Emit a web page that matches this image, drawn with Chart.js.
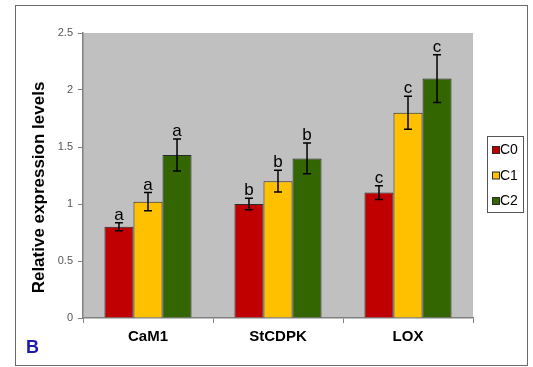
<!DOCTYPE html>
<html>
<head>
<meta charset="utf-8">
<script src="https://cdn.jsdelivr.net/npm/chart.js@4.4.1/dist/chart.umd.min.js"></script>
<style>
  html, body { margin: 0; padding: 0; background: #ffffff; }
  #wrap { width: 533px; height: 367px; }
</style>
</head>
<body>
<div id="wrap"><canvas id="chart" width="533" height="367"></canvas></div>
<script>
// Genes on the x axis
const genes = ['CaM1', 'StCDPK', 'LOX'];
// Treatment series
const seriesNames = ['C0', 'C1', 'C2'];
const seriesColors = ['#C00000', '#FFC000', '#336600'];

// Mean relative expression per gene
const c0Values = [0.80, 1.00, 1.10];
const c1Values = [1.02, 1.20, 1.80];
const c2Values = [1.43, 1.40, 2.10];

// Error (± half-width) per gene
const c0Errors = [0.035, 0.05, 0.06];
const c1Errors = [0.08, 0.095, 0.145];
const c2Errors = [0.14, 0.135, 0.21];

// Significance letters per gene
const c0Letters = ['a', 'b', 'c'];
const c1Letters = ['a', 'b', 'c'];
const c2Letters = ['a', 'b', 'c'];

// Y axis range, step and tick labels
const yMin = 0;
const yMax = 2.5;
const yStep = 0.5;
const yTickLabels = ['0', '0.5', '1', '1.5', '2', '2.5'];

const axisTitle = 'Relative expression levels';
const panelLabel = 'B';

const FONT = 'Arial, "Liberation Sans", Helvetica, sans-serif';

const valueSets = [c0Values, c1Values, c2Values];
const errorSets = [c0Errors, c1Errors, c2Errors];
const letterSets = [c0Letters, c1Letters, c2Letters];

const datasets = seriesNames.map((name, i) => ({
  label: name,
  data: valueSets[i],
  errors: errorSets[i],
  letters: letterSets[i],
  backgroundColor: seriesColors[i],
  borderColor: '#2a2a2a',
  borderWidth: 1,
  categoryPercentage: 0.67,
  barPercentage: 1.0
}));

// Grey plotting area behind the bars
const plotBackground = {
  id: 'plotBackground',
  beforeDraw(chart) {
    const { ctx, chartArea: a } = chart;
    ctx.save();
    ctx.fillStyle = '#C0C0C0';
    ctx.fillRect(a.left, a.top, a.right - a.left, a.bottom - a.top);
    ctx.restore();
  }
};

// Error bars with caps and significance letters above them
const errorBars = {
  id: 'errorBars',
  afterDatasetsDraw(chart) {
    const { ctx } = chart;
    const y = chart.scales.y;
    ctx.save();
    chart.data.datasets.forEach((ds, di) => {
      const meta = chart.getDatasetMeta(di);
      meta.data.forEach((bar, j) => {
        const v = ds.data[j];
        const e = ds.errors[j];
        const yTop = y.getPixelForValue(v + e);
        const yBot = y.getPixelForValue(v - e);
        const x = bar.x;
        ctx.strokeStyle = '#000';
        ctx.lineWidth = 1.5;
        ctx.beginPath();
        ctx.moveTo(x, yTop); ctx.lineTo(x, yBot);
        ctx.moveTo(x - 4, yTop); ctx.lineTo(x + 4, yTop);
        ctx.moveTo(x - 4, yBot); ctx.lineTo(x + 4, yBot);
        ctx.stroke();
        ctx.fillStyle = '#000';
        ctx.font = '17px ' + FONT;
        ctx.textAlign = 'center';
        ctx.textBaseline = 'alphabetic';
        ctx.fillText(ds.letters[j], x, yTop - 3);
      });
    });
    ctx.restore();
  }
};

// Outer frame, axis title, panel letter and legend box
const decorations = {
  id: 'decorations',
  afterDraw(chart) {
    const { ctx, chartArea: a } = chart;
    ctx.save();
    // frame
    ctx.strokeStyle = '#6a6a6a';
    ctx.lineWidth = 1;
    ctx.strokeRect(15.5, 5.5, 512, 360);

    // vertical axis title
    ctx.save();
    ctx.translate(39.5, 187.5);
    ctx.rotate(-Math.PI / 2);
    ctx.fillStyle = '#000';
    ctx.font = 'bold 17px ' + FONT;
    ctx.textAlign = 'center';
    ctx.textBaseline = 'middle';
    ctx.fillText(axisTitle, 0, 0);
    ctx.restore();

    // panel letter
    ctx.fillStyle = '#1a1aa8';
    ctx.font = 'bold 18px ' + FONT;
    ctx.textAlign = 'left';
    ctx.textBaseline = 'alphabetic';
    ctx.fillText(panelLabel, 26, 353);

    // legend
    const lx = a.right + 14, ly = 136;
    ctx.strokeStyle = '#555';
    ctx.lineWidth = 1;
    ctx.fillStyle = '#fff';
    ctx.fillRect(lx + 0.5, ly + 0.5, 36, 76);
    ctx.strokeRect(lx + 0.5, ly + 0.5, 36, 76);
    chart.data.datasets.forEach((ds, i) => {
      const cy = ly + 14 + i * 25.5;
      ctx.fillStyle = ds.backgroundColor;
      ctx.fillRect(lx + 5.5, cy - 3.5, 7, 7);
      ctx.strokeStyle = '#2a2a2a';
      ctx.strokeRect(lx + 5.5, cy - 3.5, 7, 7);
      ctx.fillStyle = '#000';
      ctx.font = '14px ' + FONT;
      ctx.textAlign = 'left';
      ctx.textBaseline = 'middle';
      ctx.fillText(ds.label, lx + 13, cy + 0.5);
    });
    ctx.restore();
  }
};

new Chart(document.getElementById('chart'), {
  type: 'bar',
  data: { labels: genes, datasets },
  plugins: [plotBackground, errorBars, decorations],
  options: {
    responsive: false,
    animation: false,
    devicePixelRatio: 1,
    layout: { padding: { left: 0, top: 33, right: 60, bottom: 0 } },
    plugins: { legend: { display: false }, tooltip: { enabled: false } },
    scales: {
      x: {
        ticks: { color: '#000', font: { family: FONT, size: 15, weight: 'bold' }, padding: 5 },
        grid: { offset: true, drawOnChartArea: false, tickLength: 5, color: '#808080', lineWidth: 1 },
        border: { color: '#808080', width: 1.5 },
        afterFit(scale) { scale.height = 49; }
      },
      y: {
        min: yMin,
        max: yMax,
        ticks: {
          stepSize: yStep,
          color: '#555',
          font: { family: FONT, size: 11 },
          padding: 5,
          callback: (value, index) => yTickLabels[index]
        },
        grid: { drawOnChartArea: false, tickLength: 5, color: '#808080', lineWidth: 1 },
        border: { color: '#808080', width: 1.5 },
        afterFit(scale) { scale.width = 83; }
      }
    }
  }
});
</script>
</body>
</html>
